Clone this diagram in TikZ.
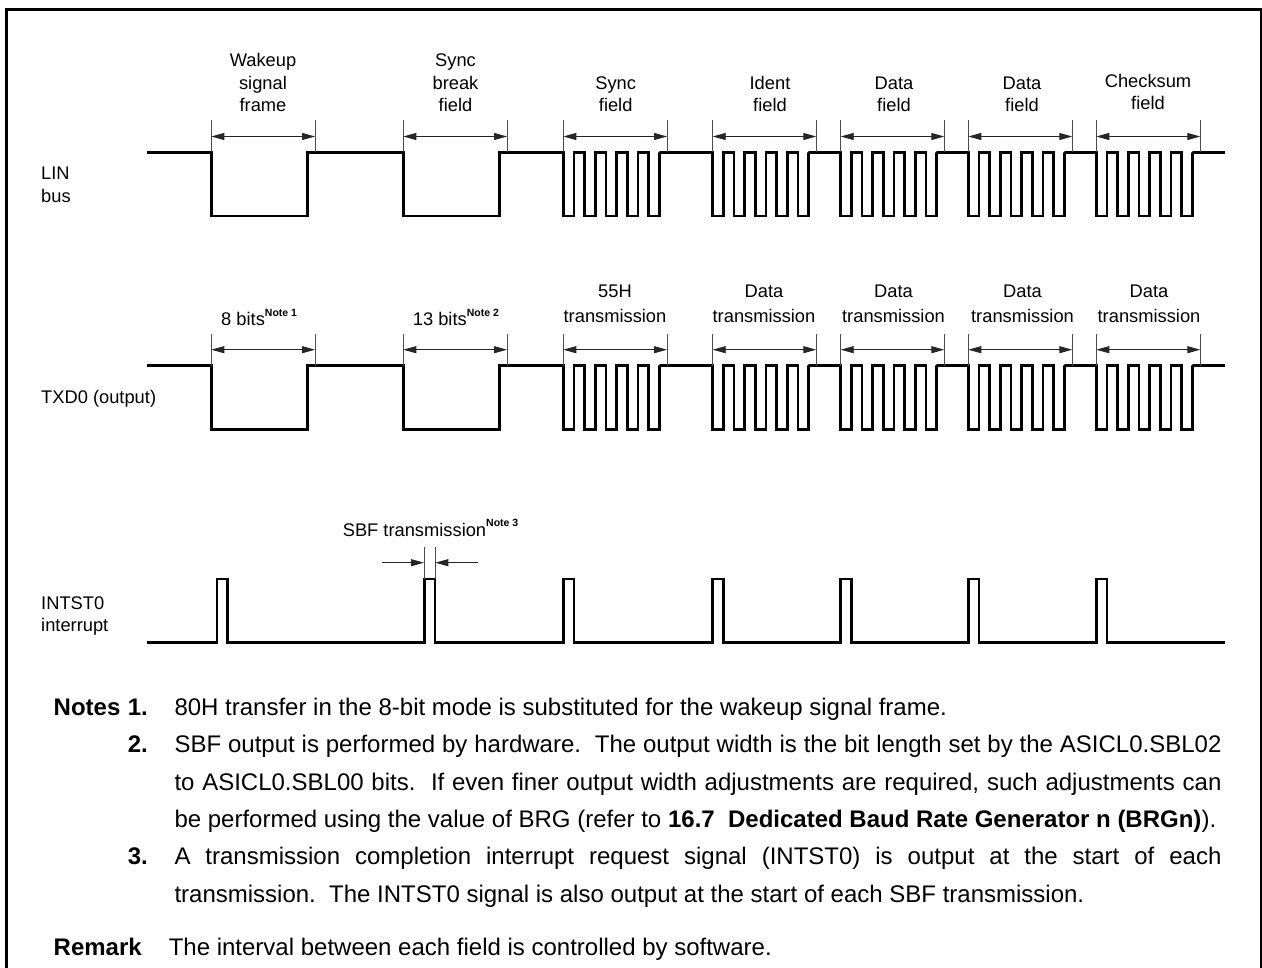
\documentclass[tikz,border=0pt]{standalone}
\usepackage{fontspec}
\setmainfont{Liberation Sans}
\usetikzlibrary{arrows.meta}
\newcommand{\lab}[4]{\node[lbl] (#1) at (#2,#3) {#4};}
\newcommand{\sn}[1]{\raisebox{9.5pt}{\fontsize{10.5}{10}\selectfont\bfseries #1}}
\newcommand{\jline}[3]{\node[notetxt] (#1) at (174.3,#2) {\hbox to 1047pt{#3}};}
\newcommand{\nline}[3]{\node[notetxt] (#1) at (174.3,#2) {#3};}
\newcommand{\numb}[3]{\node[notenum] (#1) at (148,#2) {#3};}
\newcommand{\field}[4]{%
  \coordinate (#1l) at (#2,#4);
  \coordinate (#1r) at (#3,#4);
  \draw[ext] (#2,#4-32) -- (#1l);
  \draw[ext] (#3,#4-32) -- (#1r);
  \coordinate (#1al) at (#2,#4-16);
  \coordinate (#1ar) at (#3,#4-16);
  \draw[dim] (#1al) -- (#1ar);}
\tikzset{
  wave/.style={line width=2.7pt,line join=miter,line cap=butt},
  ext/.style={line width=1pt,black!70},
  dim/.style={line width=0.9pt,black!85,{Triangle[length=13pt,width=7pt]}-{Triangle[length=13pt,width=7pt]}},
  arr/.style={line width=0.9pt,black!85,-{Triangle[length=13pt,width=7pt]}},
  lbl/.style={inner sep=0pt,anchor=base,font=\fontsize{18.3}{22}\selectfont},
  lbll/.style={lbl,anchor=base west},
  notetxt/.style={inner sep=0pt,anchor=base west,font=\fontsize{24}{28}\selectfont},
  notenum/.style={inner sep=0pt,anchor=base east,font=\fontsize{24}{28}\selectfont\bfseries},
  frameline/.style={line width=3pt,line join=miter}
}
\begin{document}
\begin{tikzpicture}[x=1pt,y=-1pt]
\useasboundingbox (0,0) rectangle (1262,968);
\draw[frameline] (6.5,968) -- (6.5,9.5) -- (1261,9.5) -- (1261,968);
% row 1 and 2 waveforms
\foreach \H/\L/\R in {152.5/216/a,365.7/429.7/b}{
  \draw[wave] (147,\H)
    foreach \x in {211.3,403.3}{ -- (\x,\H) -- (\x,\L) -- ({\x+96},\L) -- ({\x+96},\H) }
    foreach \x in {563.3,712.7,840.7,968.3,1096.3}{
      foreach \k in {0,1,2,3,4}{
        -- ({\x+\k*21.34},\H) -- ({\x+\k*21.34},\L) -- ({\x+\k*21.34+10.67},\L) -- ({\x+\k*21.34+10.67},\H)
      }
      -- ({\x+96},\H)
    }
    -- (1225,\H);
  \field{f1\R}{211.3}{315}{\H}
  \field{f2\R}{403.3}{507}{\H}
  \field{f3\R}{563.3}{667}{\H}
  \field{f4\R}{712.7}{816.3}{\H}
  \field{f5\R}{840.7}{944.3}{\H}
  \field{f6\R}{968.3}{1072.3}{\H}
  \field{f7\R}{1096.3}{1200.3}{\H}
}
% row 3
\draw[wave] (147,642.7)
  foreach \x in {217,424.3,563.3,712.7,840.7,968.3,1096.3}{
    -- (\x,642.7) -- (\x,579) -- ({\x+10.6},579) -- ({\x+10.6},642.7)
  } -- (1225,642.7);
\coordinate (sl) at (424.3,579);
\coordinate (sr) at (435,579);
\coordinate (sla) at (381.7,562.7);
\coordinate (slb) at (424,562.7);
\coordinate (sra) at (477.7,562.7);
\coordinate (srb) at (435.3,562.7);
\draw[ext] (424.3,546.7) -- (sl);
\draw[ext] (435,546.7) -- (sr);
\draw[arr] (sla) -- (slb);
\draw[arr] (sra) -- (srb);
% left labels
\node[lbll] (lin) at (41,180) {LIN};
\node[lbll] (bus) at (41,203) {bus};
\node[lbll] (txd) at (41,403) {TXD0 (output)};
\node[lbll] (ints) at (41,609) {INTST0};
\node[lbll] (intr) at (41,631) {interrupt};
% row 1 labels
\lab{t1a}{263}{67}{Wakeup}
\lab{t1b}{263}{89.5}{signal}
\lab{t1c}{263}{111.5}{frame}
\lab{t2a}{455.5}{67}{Sync}
\lab{t2b}{455.5}{89.5}{break}
\lab{t2c}{455.5}{111.5}{field}
\lab{t3a}{615.7}{89.5}{Sync}
\lab{t3b}{615.7}{111.5}{field}
\lab{t4a}{770}{89.5}{Ident}
\lab{t4b}{770}{111.5}{field}
\lab{t5a}{894}{89.5}{Data}
\lab{t5b}{894}{111.5}{field}
\lab{t6a}{1022}{89.5}{Data}
\lab{t6b}{1022}{111.5}{field}
\lab{t7a}{1148}{87.5}{Checksum}
\lab{t7b}{1148}{110}{field}
% row 2 labels
\node[lbll] (b8) at (221,325.7) {8 bits\sn{Note 1}};
\node[lbll] (b13) at (412.7,325.7) {13 bits\sn{Note 2}};
\lab{u3a}{615}{297.5}{55H}
\lab{u3b}{615}{322.5}{transmission}
\lab{u4a}{764}{297.5}{Data}
\lab{u4b}{764}{322.5}{transmission}
\lab{u5a}{893.5}{297.5}{Data}
\lab{u5b}{893.5}{322.5}{transmission}
\lab{u6a}{1022.5}{297.5}{Data}
\lab{u6b}{1022.5}{322.5}{transmission}
\lab{u7a}{1149}{297.5}{Data}
\lab{u7b}{1149}{322.5}{transmission}
\node[lbll] (sbf) at (342.6,536) {SBF transmission\sn{Note 3}};
% notes
\node[notenum,anchor=base west] (notes) at (53.5,715) {Notes};
\numb{n1}{715}{1.}
\numb{n2}{752}{2.}
\numb{n3}{864}{3.}
\nline{l1}{715}{80H transfer in the 8-bit mode is substituted for the wakeup signal frame.}
\jline{l2}{752}{SBF output is performed by hardware.\ \ The output width is the bit length set by the ASICL0.SBL02}
\jline{l3}{790}{to ASICL0.SBL00 bits.\ \ If even finer output width adjustments are required, such adjustments can}
\nline{l4}{827}{be performed using the value of BRG (refer to \textbf{16.7\ \ Dedicated Baud Rate Generator n (BRGn)}).}
\jline{l5}{864}{A transmission completion interrupt request signal (INTST0) is output at the start of each}
\nline{l6}{902}{transmission.\ \ The INTST0 signal is also output at the start of each SBF transmission.}
\node[notenum,anchor=base west] (rem) at (53.5,955) {Remark};
\node[notetxt] (remt) at (168.6,955) {The interval between each field is controlled by software.};
\end{tikzpicture}
\end{document}
